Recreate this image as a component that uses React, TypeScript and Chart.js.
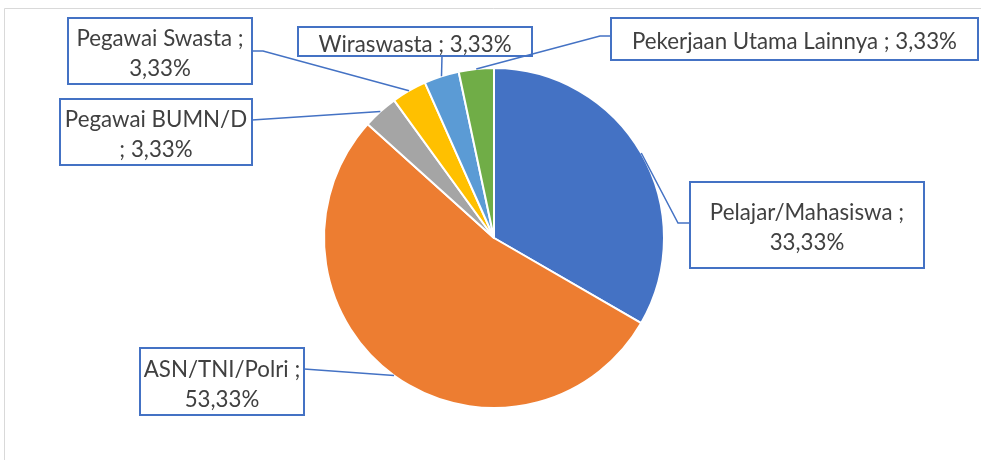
import React, { useEffect, useRef } from "react";
import { Chart, registerables } from "chart.js";

Chart.register(...registerables);

const categories = [
  "Pelajar/Mahasiswa",
  "ASN/TNI/Polri",
  "Pegawai BUMN/D",
  "Pegawai Swasta",
  "Wiraswasta",
  "Pekerjaan Utama Lainnya",
];
const percentages = [33.33, 53.33, 3.33, 3.33, 3.33, 3.33];
const colors = ["#4472C4", "#ED7D31", "#A5A5A5", "#FFC000", "#5B9BD5", "#70AD47"];

// how each label wraps: "after" = break after ";", "before" = break before ";", "none" = one line
const labelWrap = ["after", "after", "before", "after", "none", "none"];

// label box layout (x, y, w, h), anchor point on the box, optional elbow
const labelLayout = [
  { box: [690, 182, 234, 86], anchor: [690, 223], elbow: [678, 223] },
  { box: [140, 348, 164, 67], anchor: [304, 369], elbow: null },
  { box: [60, 99, 192, 66], anchor: [252, 120], elbow: null },
  { box: [68, 18, 184, 66], anchor: [252, 51], elbow: [263, 51] },
  { box: [298, 27, 234, 29], anchor: [442, 56], elbow: null },
  { box: [611, 18, 367, 42], anchor: [611, 36], elbow: [600, 36] },
];

const FONT_FAMILY = "Lato, 'Open Sans', sans-serif";
const TEXT_COLOR = "#404040";
const BOX_COLOR = "#4472C4";

function fmt(v: number) {
  return v.toFixed(2).replace(".", ",") + "%";
}

function labelLinesFor(i: number): string[] {
  const name = categories[i];
  const val = fmt(percentages[i]);
  const mode = labelWrap[i];
  if (mode === "after") return [name + " ;", val];
  if (mode === "before") return [name, "; " + val];
  return [name + " ; " + val];
}

const labelPlugin = {
  id: "calloutLabels",
  afterDraw(chart: any) {
    const ctx = chart.ctx as CanvasRenderingContext2D;
    const meta = chart.getDatasetMeta(0);
    ctx.save();
    // outer frame
    ctx.strokeStyle = "#D9D9D9";
    ctx.lineWidth = 1;
    ctx.beginPath();
    ctx.moveTo(4.5, 470);
    ctx.lineTo(4.5, 8.5);
    ctx.lineTo(990, 8.5);
    ctx.stroke();

    // font size fitted so the longest single-line label has the reference width
    ctx.font = `100px ${FONT_FAMILY}`;
    const refW = ctx.measureText(labelLinesFor(5)[0]).width;
    const fontSize = (325 / refW) * 100;
    ctx.font = `${fontSize.toFixed(2)}px ${FONT_FAMILY}`;
    const capH = ctx.measureText("H").actualBoundingBoxAscent;
    const lineH = 30;

    meta.data.forEach((arc: any, i: number) => {
      const lay = labelLayout[i];
      const mid = (arc.startAngle + arc.endAngle) / 2;
      const sx = arc.x + Math.cos(mid) * arc.outerRadius;
      const sy = arc.y + Math.sin(mid) * arc.outerRadius;
      // leader line
      ctx.strokeStyle = BOX_COLOR;
      ctx.lineWidth = 1.5;
      ctx.beginPath();
      ctx.moveTo(sx, sy);
      if (lay.elbow) ctx.lineTo(lay.elbow[0], lay.elbow[1]);
      ctx.lineTo(lay.anchor[0], lay.anchor[1]);
      ctx.stroke();

      // box
      const [bx, by, bw, bh] = lay.box;
      ctx.fillStyle = "#FFFFFF";
      ctx.fillRect(bx, by, bw, bh);
      ctx.lineWidth = 2;
      ctx.strokeStyle = BOX_COLOR;
      ctx.strokeRect(bx, by, bw, bh);

      // text
      const lines = labelLinesFor(i);
      ctx.fillStyle = TEXT_COLOR;
      ctx.textAlign = "center";
      ctx.textBaseline = "alphabetic";
      const cy = by + bh / 2;
      lines.forEach((t, k) => {
        const y = cy + (k - (lines.length - 1) / 2) * lineH + capH / 2 + 1.5;
        ctx.fillText(t, bx + bw / 2, y);
      });
    });
    ctx.restore();
  },
};

export default function App() {
  const ref = useRef<HTMLCanvasElement | null>(null);
  useEffect(() => {
    if (!ref.current) return;
    const chart = new Chart(ref.current, {
      type: "pie",
      data: {
        labels: categories,
        datasets: [
          {
            data: percentages,
            backgroundColor: colors,
            borderColor: "#FFFFFF",
            borderWidth: 2,
          },
        ],
      },
      options: {
        responsive: false,
        animation: false,
        devicePixelRatio: 1,
        layout: { padding: { top: 67, bottom: 51, left: 7, right: 0 } },
        plugins: {
          legend: { display: false },
          tooltip: { enabled: false },
          title: { display: false },
        },
      },
      plugins: [labelPlugin],
    });
    return () => chart.destroy();
  }, []);
  return (
    <div style={{ position: "fixed", left: 0, top: 0, width: 981, height: 460, background: "#fff" }}>
      <canvas ref={ref} width={981} height={460} style={{ display: "block" }} />
    </div>
  );
}
